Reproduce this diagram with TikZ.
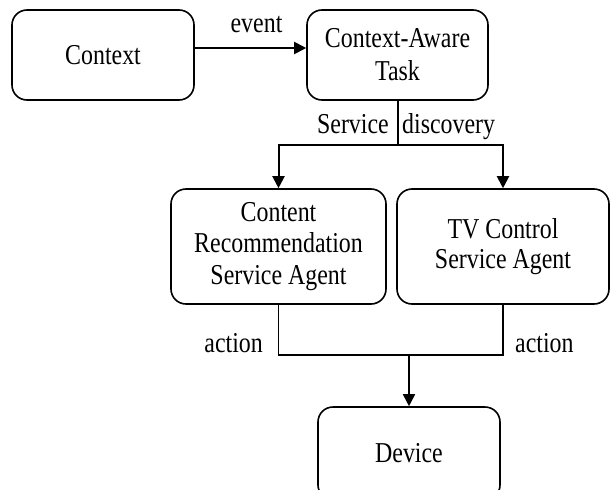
\documentclass[tikz,border=0pt]{standalone}
\usepackage{fontspec}
\setmainfont{Liberation Serif}[FakeStretch=0.83]
\usetikzlibrary{arrows.meta}

\begin{document}
\begin{tikzpicture}[x=1pt,y=-1pt,
  box/.style={draw,line width=1.6pt,rounded corners=15pt,align=center,
    inner sep=0pt,font=\fontsize{28.8}{31}\selectfont},
  lbl/.style={inner sep=0pt,font=\fontsize{28.8}{31}\selectfont},
  flow/.style={line width=2pt,-{Triangle[length=12pt,width=12pt]}},
  mergeline/.style={line width=1.4pt}]
  \clip (0,0) rectangle (611,490);

  % boxes
  \node[box,minimum width=182pt,minimum height=90pt] (ctx) at (103,55) {Context};
  \node[box,minimum width=181pt,minimum height=90pt,
        font=\fontsize{28.8}{33}\selectfont] (cat) at (397.5,55) {Context-Aware\\Task};
  \node[box,minimum width=215pt,minimum height=115pt,
        font=\fontsize{28.8}{31.5}\selectfont] (crsa) at (278.5,246.5) {Content\\Recommendation\\Service Agent};
  \node[box,minimum width=212pt,minimum height=115pt,
        font=\fontsize{28.8}{30}\selectfont] (tvsa) at (503,246.5) {TV Control\\Service Agent};
  \node[box,minimum width=182pt,minimum height=93pt] (dev) at (409,453.5) {Device};

  % event arrow
  \draw[flow] ([yshift=7pt]ctx.east) -- ([yshift=7pt]cat.west);
  \node[lbl,anchor=base] (ev) at (256.5,32) {event};

  % service discovery branches
  \draw[flow] (cat.south) -- ++(0,44) -| (crsa.north);
  \draw[flow] (cat.south) -- ++(0,44) -| (tvsa.north);
  \node[lbl,anchor=base east] (sv) at (389,133) {Service};
  \node[lbl,anchor=base west] (dc) at (402,133) {discovery};

  % actions merging into the device
  \coordinate (j) at (409,355);
  \draw[mergeline] (crsa.south) |- (j);
  \draw[mergeline] (tvsa.south) |- (j);
  \draw[line width=1.7pt,-{Triangle[length=12pt,width=12pt]}] (j) -- (dev.north);
  \node[lbl,anchor=base east] (a1) at (263,352) {action};
  \node[lbl,anchor=base west] (a2) at (515,352) {action};
\end{tikzpicture}
\end{document}
